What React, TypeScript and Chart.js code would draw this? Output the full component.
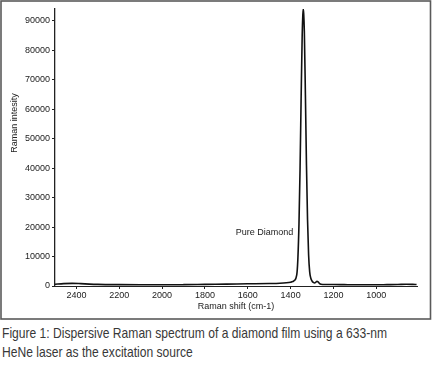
import React, { useEffect, useLayoutEffect, useRef } from "react";
import { Chart, registerables } from "chart.js";

Chart.register(...registerables);

// Raman shift (cm-1) and intensity
const shiftValues = [
  2500, 2460, 2420, 2380, 2340, 2300, 2200, 2100, 2000, 1900, 1800, 1700, 1600, 1500,
  1450, 1420, 1400, 1390, 1380, 1375, 1370, 1366, 1361, 1356, 1351, 1346, 1343, 1341,
  1339, 1336, 1331, 1326, 1321, 1316, 1311, 1306, 1300, 1294, 1288, 1282, 1277, 1272,
  1266, 1258, 1240, 1200, 1150, 1100, 1050, 1000, 950, 900, 860, 830, 812,
];
const intensityValues = [
  600, 800, 900, 800, 650, 550, 450, 400, 400, 450, 550, 650, 750, 850,
  950, 1100, 1300, 1500, 2000, 2700, 4600, 9500, 21000, 39500, 63500, 85000, 92000, 94000,
  92500, 86500, 65000, 41000, 22500, 10500, 4800, 2700, 1700, 1200, 1000, 1300, 1600, 1400,
  900, 600, 500, 500, 450, 400, 400, 400, 450, 500, 600, 550, 500,
];
const xTickValues = [2400, 2200, 2000, 1800, 1600, 1400, 1200, 1000];
const yTickValues = [0, 10000, 20000, 30000, 40000, 50000, 60000, 70000, 80000, 90000];
const xMin = 810;
const xMax = 2500;
const yMax = 94000;
const annotationText = "Pure Diamond";
const annotationX = 1388;
const annotationY = 18300;
const xTitle = "Raman shift (cm-1)";
const yTitle = "Raman intesity";
const captionLines = [
  "Figure 1: Dispersive Raman spectrum of a diamond film using a 633-nm",
  "HeNe laser as the excitation source",
];

const FONT = "'Liberation Sans', Arial, Helvetica, sans-serif";

const decorPlugin = {
  id: "decor",
  afterDraw(chart: any) {
    const ctx = chart.ctx;
    const ca = chart.chartArea;
    const xs = chart.scales.x;
    const ys = chart.scales.y;
    ctx.save();
    // frame
    ctx.strokeStyle = "#5a5a5a";
    ctx.lineWidth = 1.6;
    ctx.strokeRect(1, 1, chart.width - 2.5, 318);
    // titles
    ctx.fillStyle = "#222";
    ctx.font = "9px " + FONT;
    ctx.textAlign = "center";
    ctx.textBaseline = "middle";
    ctx.fillText(xTitle, (ca.left + ca.right) / 2, 307);
    ctx.save();
    ctx.translate(15, 123);
    ctx.rotate(-Math.PI / 2);
    ctx.fillText(yTitle, 0, 0);
    ctx.restore();
    // annotation
    ctx.textAlign = "right";
    ctx.fillText(annotationText, xs.getPixelForValue(annotationX), ys.getPixelForValue(annotationY));
    ctx.restore();
  },
};

export default function App() {
  const ref = useRef<HTMLCanvasElement | null>(null);
  const capRef = useRef<HTMLDivElement | null>(null);

  useLayoutEffect(() => {
    const el = capRef.current;
    if (!el) return;
    const first = el.firstChild as HTMLElement | null;
    if (!first) return;
    const w = first.getBoundingClientRect().width;
    if (w > 0) {
      el.style.transform = `scaleX(${385 / w})`;
    }
  }, []);

  useEffect(() => {
    if (!ref.current) return;
    const points = shiftValues.map((x, i) => ({ x, y: intensityValues[i] }));
    const chart = new Chart(ref.current, {
      type: "line",
      data: {
        datasets: [
          {
            data: points,
            borderColor: "#111",
            borderWidth: 1.6,
            pointRadius: 0,
            fill: false,
            cubicInterpolationMode: "monotone",
          },
        ],
      },
      options: {
        animation: false,
        responsive: false,
        maintainAspectRatio: false,
        events: [],
        layout: { padding: { left: 0, right: 15, top: 9, bottom: 0 } },
        plugins: { legend: { display: false }, tooltip: { enabled: false }, title: { display: false } },
        scales: {
          x: {
            type: "linear",
            reverse: true,
            min: xMin,
            max: xMax,
            afterFit: (s: any) => {
              s.height = 36;
            },
            afterBuildTicks: (s: any) => {
              s.ticks = xTickValues.map((v) => ({ value: v }));
            },
            grid: { drawOnChartArea: false, drawTicks: true, tickLength: 3, color: "#222" },
            border: { display: true, color: "#222", width: 1 },
            ticks: {
              font: { family: FONT, size: 9 },
              color: "#222",
              padding: 1,
              maxRotation: 0,
              autoSkip: false,
              callback: (v: any) => String(v),
            },
          },
          y: {
            type: "linear",
            min: 0,
            max: yMax,
            afterFit: (s: any) => {
              s.width = 55;
            },
            afterBuildTicks: (s: any) => {
              s.ticks = yTickValues.map((v) => ({ value: v }));
            },
            grid: { drawOnChartArea: false, drawTicks: true, tickLength: 3, color: "#222" },
            border: { display: true, color: "#222", width: 1.3 },
            ticks: {
              font: { family: FONT, size: 9 },
              color: "#222",
              padding: 2,
              autoSkip: false,
              callback: (v: any) => String(v),
            },
          },
        },
      },
      plugins: [decorPlugin],
    } as any);
    return () => chart.destroy();
  }, []);

  return (
    <div style={{ position: "absolute", left: 0, top: 0, width: 432, height: 370, background: "#fff", overflow: "hidden" }}>
      <canvas ref={ref} width={432} height={322} style={{ position: "absolute", left: 0, top: 0, width: 432, height: 322 }} />
      <div
        ref={capRef}
        style={{
          position: "absolute",
          left: 2,
          top: 323,
          fontFamily: "'Liberation Sans Narrow', 'Liberation Sans', Arial, sans-serif",
          fontSize: 15,
          lineHeight: "19px",
          color: "#383838",
          whiteSpace: "nowrap",
          transformOrigin: "0 0",
        }}
      >
        {captionLines.map((l, i) => (
          <div key={i} style={{ display: "table" }}>
            {l}
          </div>
        ))}
      </div>
    </div>
  );
}
